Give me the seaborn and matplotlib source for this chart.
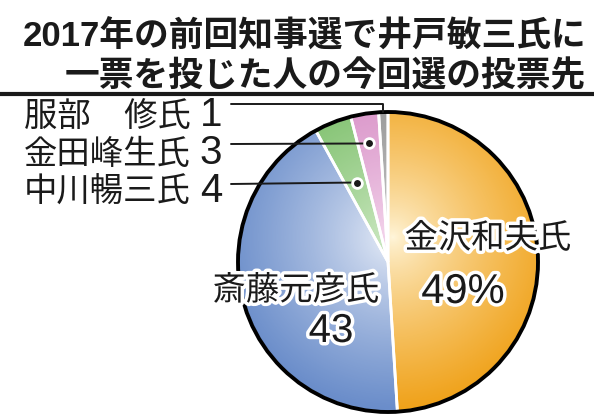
import numpy as np
import matplotlib
matplotlib.use("Agg")
import matplotlib.pyplot as plt
import matplotlib.patheffects as pe
from matplotlib.colors import LinearSegmentedColormap
import seaborn as sns

# data
candidates = ["金沢和夫氏", "斎藤元彦氏", "中川暢三氏", "金田峰生氏", "服部　修氏"]
shares = [49, 43, 4, 3, 1]
edge_colors = ["#f0a21a", "#6a8dca", "#78bd66", "#d68cc4", "#8f8f8f"]
light_colors = ["#fff6dc", "#eef2fa", "#d2ebc8", "#f5d9ee", "#cfcfcf"]
title_lines = ["2017年の前回知事選で井戸敏三氏に", "一票を投じた人の今回選の投票先"]

sns.set_style("white")
plt.rcParams["font.family"] = ["Liberation Sans", "Noto Sans CJK JP", "DejaVu Sans"]

W, H = 594, 416
fig = plt.figure(figsize=(W / 100, H / 100), dpi=100)
ax = fig.add_axes([0, 0, 1, 1])

def Y(py):
    return H - py

cx, cy, R = 388, Y(262), 150
wedges, _ = ax.pie(shares, center=(cx, cy), radius=R, startangle=90,
                   counterclock=False,
                   wedgeprops=dict(edgecolor="white", linewidth=2))

# radial gradient fill clipped to each wedge
n = 300
xs = np.linspace(cx - R, cx + R, n)
ys = np.linspace(cy - R, cy + R, n)
gx, gy = np.meshgrid(xs, ys)
dist = np.hypot(gx - (cx + 5), gy - (cy + 25)) / (1.15 * R)
dist = np.clip(dist, 0, 1) ** 0.75
for w, c0, c1 in zip(wedges, light_colors, edge_colors):
    cmap = LinearSegmentedColormap.from_list("g", [c0, c1])
    im = ax.imshow(dist, extent=(cx - R, cx + R, cy - R, cy + R), origin="lower",
                   cmap=cmap, vmin=0, vmax=1, zorder=1, interpolation="bilinear")
    im.set_clip_path(w)
    w.set_facecolor("none")
    w.set_zorder(2)

ax.add_patch(plt.Circle((cx, cy), R, fill=False, ec="black", lw=2.8, zorder=3))

# wedge mid angles for leader lines
angles = []
a = 90.0
for s in shares:
    span = 360.0 * s / sum(shares)
    angles.append(a - span / 2)
    a -= span

halo = [pe.withStroke(linewidth=5, foreground="white")]

# small candidates: labels on the left with leader lines
# (index, radius fraction of anchor, label baseline y, leader y)
small = [(4, 1.0, 126, 104), (3, 0.8, 164, 144), (2, 0.57, 202, 184)]
for idx, rf, ty, ly in small:
    th = np.deg2rad(angles[idx])
    px = cx + rf * R * np.cos(th)
    py = cy + rf * R * np.sin(th)
    ax.text(24, Y(ty), candidates[idx], fontsize=24, ha="left", va="baseline", color="#1a1a1a")
    ax.text(211, Y(ty), str(shares[idx]), fontsize=29, ha="center", va="baseline", color="#1a1a1a")
    if rf >= 1.0:
        ax.plot([231, px, px], [Y(ly), Y(ly), py], color="#1a1a1a", lw=1.4, zorder=4)
    else:
        ax.plot([231, px], [Y(ly), py], color="#1a1a1a", lw=1.4, zorder=4)
        ax.plot(px, py, "o", ms=7, mfc="#1a1a1a", mec="white", mew=2, zorder=5)

# big candidates inside the pie
ax.text(488, Y(248), candidates[0], fontsize=24, ha="center", va="baseline",
        color="#1a1a1a", path_effects=halo, zorder=6)
ax.text(463, Y(303), f"{shares[0]}%", fontsize=30, ha="center", va="baseline",
        color="#1a1a1a", path_effects=halo, zorder=6)
ax.text(296, Y(300), candidates[1], fontsize=24, ha="center", va="baseline",
        color="#1a1a1a", path_effects=halo, zorder=6)
ax.text(331, Y(342), str(shares[1]), fontsize=29, ha="center", va="baseline",
        color="#1a1a1a", path_effects=halo, zorder=6)

# title
ax.text(586, Y(47), title_lines[0], fontsize=25, fontweight="bold", ha="right",
        va="baseline", color="#1a1a1a")
ax.text(586, Y(86), title_lines[1], fontsize=25, fontweight="bold", ha="right",
        va="baseline", color="#1a1a1a")
ax.plot([0, W], [Y(94), Y(94)], color="#1a1a1a", lw=3)

ax.set_xlim(0, W)
ax.set_ylim(0, H)
ax.set_aspect("auto")
ax.axis("off")
fig.savefig("out.png", dpi=100)
